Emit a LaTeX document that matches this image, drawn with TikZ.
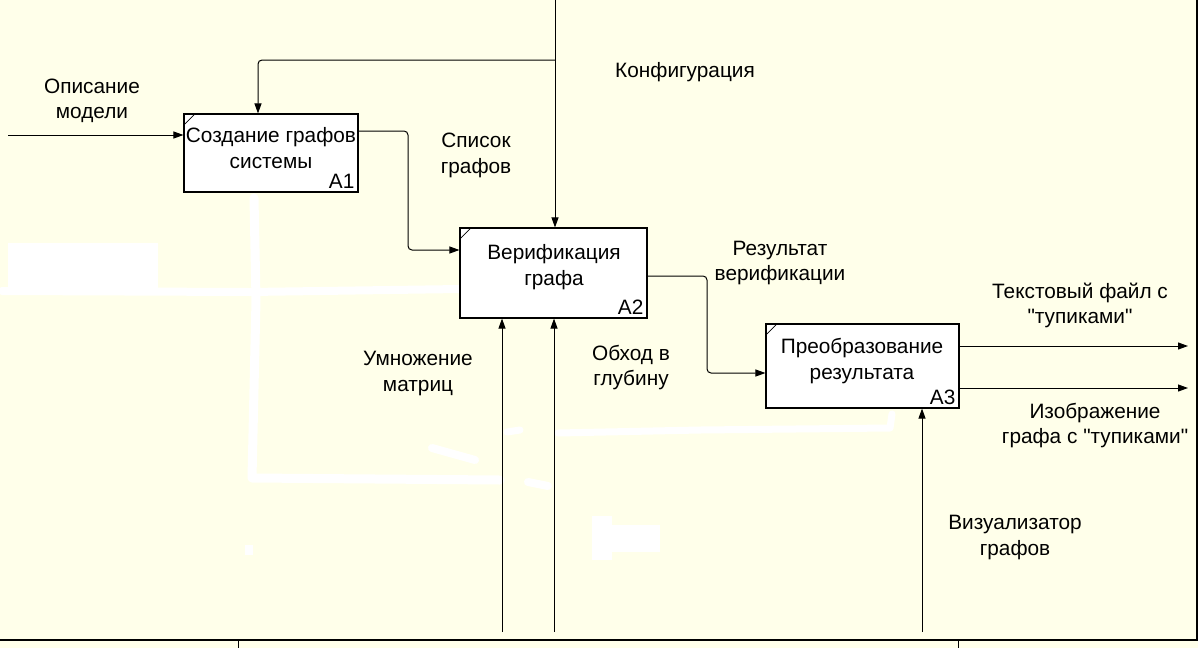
\documentclass[tikz,border=0pt]{standalone}
\usepackage{fontspec}
\setmainfont{Liberation Sans}[Ligatures=TeXOff]
\usetikzlibrary{arrows.meta,calc}
\definecolor{bg}{RGB}{255,255,234}
\tikzset{
  txt/.style={align=center, inner sep=0pt, font=\fontsize{20.8}{25.5}\selectfont},
  num/.style={inner sep=0pt, font=\fontsize{20.8}{22}\selectfont},
  box/.style={draw=black, fill=white, line width=1.1pt, inner sep=0pt},
  arr/.style={draw=black, line width=1pt, rounded corners=4pt, -{Triangle[length=10pt,width=7pt]}},
  smudge/.style={draw=white, line cap=round, line join=round}
}
\begin{document}
\begin{tikzpicture}[x=1pt,y=-1pt]
\useasboundingbox (0,0) rectangle (1198,648);
\fill[bg] (0,0) rectangle (1198,648);
% white smudges
\fill[white] (8,243) rectangle (158,290);
\draw[smudge, line width=8pt] (2,291) -- (250,292) -- (460,289);
\draw[smudge, line width=9pt] (254,198) -- (256,300) -- (252,478) -- (500,480);
\draw[smudge, line width=8pt] (528,482) -- (548,486);
\draw[smudge, line width=7pt] (558,433) -- (700,430) -- (890,428) -- (892,414);
\draw[smudge, line width=7pt] (507,432) -- (520,430);
\draw[smudge, line width=8pt] (432,448) -- (475,460);
\fill[white] (592,516) rectangle (612,560);
\fill[white] (610,525) rectangle (660,552);
\fill[white] (245,545) rectangle (253,555);
% frame
\draw[line width=2pt] (0,640) -- (1198,640);
\draw[line width=1pt] (238,640) -- (238,648);
\draw[line width=1pt] (958,640) -- (958,648);
\draw[line width=1.5pt] (1197,0) -- (1197,640);
% boxes
\node[box, minimum width=174pt, minimum height=78pt] (A1) at (271,153) {};
\node[box, minimum width=187pt, minimum height=90pt] (A2) at (553.5,273) {};
\node[box, minimum width=193pt, minimum height=84pt] (A3) at (862.5,366) {};
\draw[line width=0.8pt] ($(A1.north west)+(0,12)$) -- ($(A1.north west)+(12,0)$);
\draw[line width=0.8pt] ($(A2.north west)+(0,12)$) -- ($(A2.north west)+(12,0)$);
\draw[line width=0.8pt] ($(A3.north west)+(0,12)$) -- ($(A3.north west)+(12,0)$);
\node[txt] (t1) at (271,148) {Создание графов\\системы};
\node[txt] (t2) at (554,267) {Верификация\\графа};
\node[txt] (t3) at (862,361) {Преобразование\\результата};
\node[num, anchor=south east] (n1) at ($(A1.south east)+(-4,-4)$) {A1};
\node[num, anchor=south east] (n2) at ($(A2.south east)+(-4,-4)$) {A2};
\node[num, anchor=south east] (n3) at ($(A3.south east)+(-4,-4)$) {A3};
% free ends
\coordinate (inL) at (8,135);
\coordinate (ctop) at (555,0);
\coordinate (cbr) at (555,60);
\coordinate (m1) at (502,632);
\coordinate (m2) at (554,632);
\coordinate (m3) at (922,632);
\coordinate (out1) at (1188,346);
\coordinate (out2) at (1188,388);
% connectors
\draw[arr] (inL) -- (inL -| A1.west);
\draw[arr] (ctop) -- (ctop |- A2.north);
\draw[arr] (cbr) -- (258,60) -- (258,60 |- A1.north);
\draw[arr] (A1.east |- 0,131) -- (408,131) -- (408,250) -- (A2.west |- 0,250);
\draw[arr] (A2.east |- 0,276) -- (707,276) -- (707,373) -- (A3.west |- 0,373);
\draw[arr] (m1) -- (m1 |- A2.south);
\draw[arr] (m2) -- (m2 |- A2.south);
\draw[arr] (m3) -- (m3 |- A3.south);
\draw[arr] (out1 -| A3.east) -- (out1);
\draw[arr] (out2 -| A3.east) -- (out2);
% labels
\node[txt] (l1) at (92,101) {Описание\\модели};
\node[txt] (l2) at (685,72) {Конфигурация};
\node[txt] (l3) at (476,155.5) {Список\\графов};
\node[txt] (l4) at (780,263) {Результат\\верификации};
\node[txt] (l5) at (1080,305.5) {Текстовый файл с\\"тупиками"};
\node[txt] (l6) at (1095,425.5) {Изображение\\графа с "тупиками"};
\node[txt] (l7) at (418,373.5) {Умножение\\матриц};
\node[txt] (l8) at (631,367.5) {Обход в\\глубину};
\node[txt] (l9) at (1015,537.5) {Визуализатор\\графов};
\end{tikzpicture}
\end{document}
